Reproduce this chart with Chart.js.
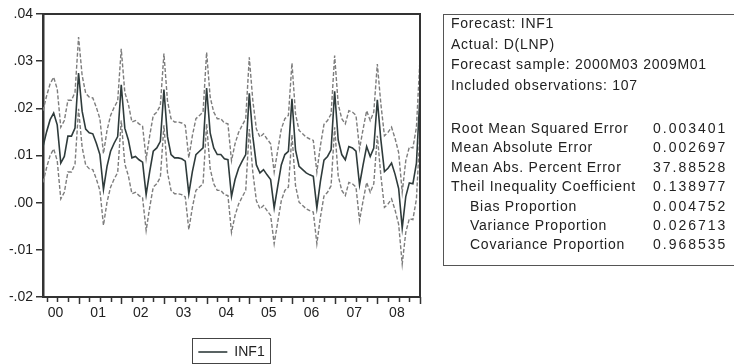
<!DOCTYPE html>
<html><head><meta charset="utf-8">
<script src="https://cdn.jsdelivr.net/npm/chart.js@4.4.1/dist/chart.umd.min.js"></script>
<style>
html,body{margin:0;padding:0;background:#fff;}
#wrap{position:relative;width:734px;height:364px;overflow:hidden;background:#fff;}
#c{position:absolute;left:0;top:0;}
#stats{position:absolute;left:443px;top:14px;width:320px;height:252px;border:1px solid #555;box-sizing:border-box;font-family:"Liberation Sans",Arial,sans-serif;font-size:14px;color:#222;}
.ln{position:absolute;white-space:nowrap;line-height:16px;letter-spacing:0.75px;}
.val{position:absolute;white-space:nowrap;line-height:16px;letter-spacing:2px;}
</style></head>
<body><div id="wrap"><canvas id="c" width="734" height="364"></canvas><div id="stats"></div></div>
<script>
// Forecast INF1, monthly 2000M03 .. 2009M01 (107 observations)
const startYear = 2000;
const startMonth = 3;
const forecast = [
0.0119,0.0150,0.0176,0.0190,0.0165,0.0084,0.0098,0.0141,0.0141,0.0158,
0.0275,0.0194,0.0156,0.0148,0.0146,0.0126,0.0102,0.0028,0.0077,0.0109,0.0126,0.0140,
0.0250,0.0158,0.0133,0.0095,0.0098,0.0091,0.0086,0.0017,0.0066,0.0109,0.0116,0.0130,
0.0240,0.0140,0.0102,0.0095,0.0095,0.0093,0.0088,0.0019,0.0066,0.0102,0.0109,0.0116,
0.0243,0.0148,0.0116,0.0102,0.0102,0.0093,0.0091,0.0013,0.0049,0.0073,0.0088,0.0102,
0.0232,0.0140,0.0080,0.0063,0.0070,0.0059,0.0049,-0.0011,0.0035,0.0080,0.0102,0.0109,
0.0220,0.0112,0.0077,0.0070,0.0063,0.0059,0.0056,-0.0011,0.0045,0.0090,0.0098,0.0112,
0.0236,0.0133,0.0102,0.0091,0.0119,0.0116,0.0109,0.0038,0.0080,0.0119,0.0098,0.0116,
0.0218,0.0133,0.0066,0.0073,0.0084,0.0060,0.0030,-0.0054,0.0013,0.0042,0.0040,0.0084,
0.0230];
const upperBand = [
0.0195,0.0226,0.0252,0.0266,0.0241,0.0160,0.0174,0.0217,0.0217,0.0234,
0.0351,0.0270,0.0232,0.0224,0.0222,0.0202,0.0178,0.0104,0.0153,0.0185,0.0202,0.0216,
0.0326,0.0234,0.0209,0.0171,0.0174,0.0167,0.0162,0.0093,0.0142,0.0185,0.0192,0.0206,
0.0316,0.0216,0.0178,0.0171,0.0171,0.0169,0.0164,0.0095,0.0142,0.0178,0.0185,0.0192,
0.0319,0.0224,0.0192,0.0178,0.0178,0.0169,0.0167,0.0089,0.0125,0.0149,0.0164,0.0178,
0.0308,0.0216,0.0156,0.0139,0.0146,0.0135,0.0125,0.0065,0.0111,0.0156,0.0178,0.0185,
0.0296,0.0188,0.0153,0.0146,0.0139,0.0135,0.0132,0.0065,0.0121,0.0166,0.0174,0.0188,
0.0312,0.0209,0.0178,0.0167,0.0195,0.0192,0.0185,0.0114,0.0156,0.0195,0.0174,0.0192,
0.0294,0.0209,0.0142,0.0149,0.0160,0.0136,0.0106,0.0022,0.0089,0.0118,0.0116,0.0160,
0.0306];
const lowerBand = [
0.0043,0.0074,0.0100,0.0114,0.0089,0.0008,0.0022,0.0065,0.0065,0.0082,
0.0199,0.0118,0.0080,0.0072,0.0070,0.0050,0.0026,-0.0048,0.0001,0.0033,0.0050,0.0064,
0.0174,0.0082,0.0057,0.0019,0.0022,0.0015,0.0010,-0.0059,-0.0010,0.0033,0.0040,0.0054,
0.0164,0.0064,0.0026,0.0019,0.0019,0.0017,0.0012,-0.0057,-0.0010,0.0026,0.0033,0.0040,
0.0167,0.0072,0.0040,0.0026,0.0026,0.0017,0.0015,-0.0063,-0.0027,-0.0003,0.0012,0.0026,
0.0156,0.0064,0.0004,-0.0013,-0.0006,-0.0017,-0.0027,-0.0087,-0.0041,0.0004,0.0026,0.0033,
0.0144,0.0036,0.0001,-0.0006,-0.0013,-0.0017,-0.0020,-0.0087,-0.0031,0.0014,0.0022,0.0036,
0.0160,0.0057,0.0026,0.0015,0.0043,0.0040,0.0033,-0.0038,0.0004,0.0043,0.0022,0.0040,
0.0142,0.0057,-0.0010,-0.0003,0.0008,-0.0016,-0.0046,-0.0130,-0.0063,-0.0034,-0.0036,0.0008,
0.0154];
const yearLabels = ['00','01','02','03','04','05','06','07','08'];
const seriesName = 'INF1';
const headerLines = ['Forecast: INF1','Actual: D(LNP)','Forecast sample: 2000M03 2009M01','Included observations: 107'];
const statNames = ['Root Mean Squared Error','Mean Absolute Error','Mean Abs. Percent Error','Theil Inequality Coefficient','Bias Proportion','Variance Proportion','Covariance Proportion'];
const statValues = ['0.003401','0.002697','37.88528','0.138977','0.004752','0.026713','0.968535'];
const statIndent = [false,false,false,false,true,true,true];

// stats box (HTML text)
const box = document.getElementById('stats');
headerLines.forEach((t,k)=>{
  const d=document.createElement('div'); d.className='ln'; d.textContent=t;
  d.style.left='7px'; d.style.top=(20.7*k)+'px'; box.appendChild(d);
});
statNames.forEach((t,k)=>{
  const d=document.createElement('div'); d.className='ln'; d.textContent=t;
  d.style.left=(statIndent[k]?26:7)+'px'; d.style.top=(105+19.4*k)+'px'; box.appendChild(d);
  const v=document.createElement('div'); v.className='val'; v.textContent=statValues[k];
  v.style.left='209px'; v.style.top=(105+19.4*k)+'px'; box.appendChild(v);
});

const FONT = {family:'"Liberation Sans", Arial, sans-serif', size:14};
const AXIS = '#333333';

const framePlugin = {id:'frame', afterDatasetsDraw(chart){
  const {ctx, chartArea:a} = chart;
  ctx.save(); ctx.strokeStyle=AXIS; ctx.lineWidth=2;
  ctx.beginPath(); ctx.moveTo(a.left,a.top); ctx.lineTo(a.right,a.top); ctx.lineTo(a.right,a.bottom); ctx.stroke();
  ctx.restore();
}};
const xTickPlugin = {id:'xticks', afterDraw(chart){
  const {ctx, chartArea:a} = chart; const xs = chart.scales.x;
  ctx.save(); ctx.strokeStyle=AXIS; ctx.lineWidth=1.5;
  for (let i=0;i<forecast.length;i++){
    const m=(startMonth-1+i)%12;
    if (m%3!==0) continue;
    const len = m===0?7:5;
    const px = Math.round(xs.getPixelForValue(i))+0.5;
    ctx.beginPath(); ctx.moveTo(px,a.bottom); ctx.lineTo(px,a.bottom+len); ctx.stroke();
  }
  ctx.restore();
}};
const legendBoxPlugin = {id:'legendbox', afterDraw(chart){
  const hb = chart.legend && chart.legend.legendHitBoxes && chart.legend.legendHitBoxes[0];
  if (!hb) return;
  const ctx = chart.ctx; ctx.save(); ctx.strokeStyle='#444'; ctx.lineWidth=1;
  ctx.strokeRect(Math.round(hb.left-6)+0.5, Math.round(hb.top-7)+0.5, Math.round(hb.width+12), 25);
  ctx.restore();
}};

new Chart(document.getElementById('c'), {
  type:'line',
  data:{datasets:[
    {label:seriesName, data:forecast.map((y,i)=>({x:i,y})), borderColor:'#2f3b3b', borderWidth:1.6, pointRadius:0, tension:0},
    {label:'upper', data:upperBand.map((y,i)=>({x:i,y})), borderColor:'#7d7d7d', borderWidth:1.4, borderDash:[4,2], pointRadius:0, tension:0},
    {label:'lower', data:lowerBand.map((y,i)=>({x:i,y})), borderColor:'#7d7d7d', borderWidth:1.4, borderDash:[4,2], pointRadius:0, tension:0}
  ]},
  options:{
    responsive:false, devicePixelRatio:1, animation:false,
    layout:{padding:{top:14,right:314,bottom:-5,left:0}},
    plugins:{
      legend:{position:'bottom', fullSize:false,
        labels:{filter:it=>it.datasetIndex===0, usePointStyle:true, pointStyle:'line', pointStyleWidth:29, padding:10, color:'#222', font:FONT}},
      tooltip:{enabled:false}
    },
    scales:{
      x:{type:'linear', min:0, max:forecast.length-1,
        afterBuildTicks:s=>{ s.ticks = yearLabels.map((_,k)=>({value:12*k + (12-startMonth+1) - 12 + 5.5 + 0})); },
        afterFit:s=>{ s.height=38; },
        grid:{display:false, drawTicks:false},
        border:{display:true, color:AXIS, width:2},
        ticks:{autoSkip:false, maxRotation:0, padding:8, color:'#222', font:FONT, callback:(v,i)=>yearLabels[i]}},
      y:{min:-0.02, max:0.04,
        afterFit:s=>{ s.width=43; },
        ticks:{stepSize:0.01, padding:3, color:'#222', font:FONT, callback:v=>Number(v).toFixed(2).replace('0.','.')},
        grid:{drawOnChartArea:false, drawTicks:true, tickLength:7, color:AXIS, lineWidth:1.5},
        border:{display:true, color:AXIS, width:2.5}}
    }
  },
  plugins:[framePlugin, xTickPlugin, legendBoxPlugin]
});
</script></body></html>
